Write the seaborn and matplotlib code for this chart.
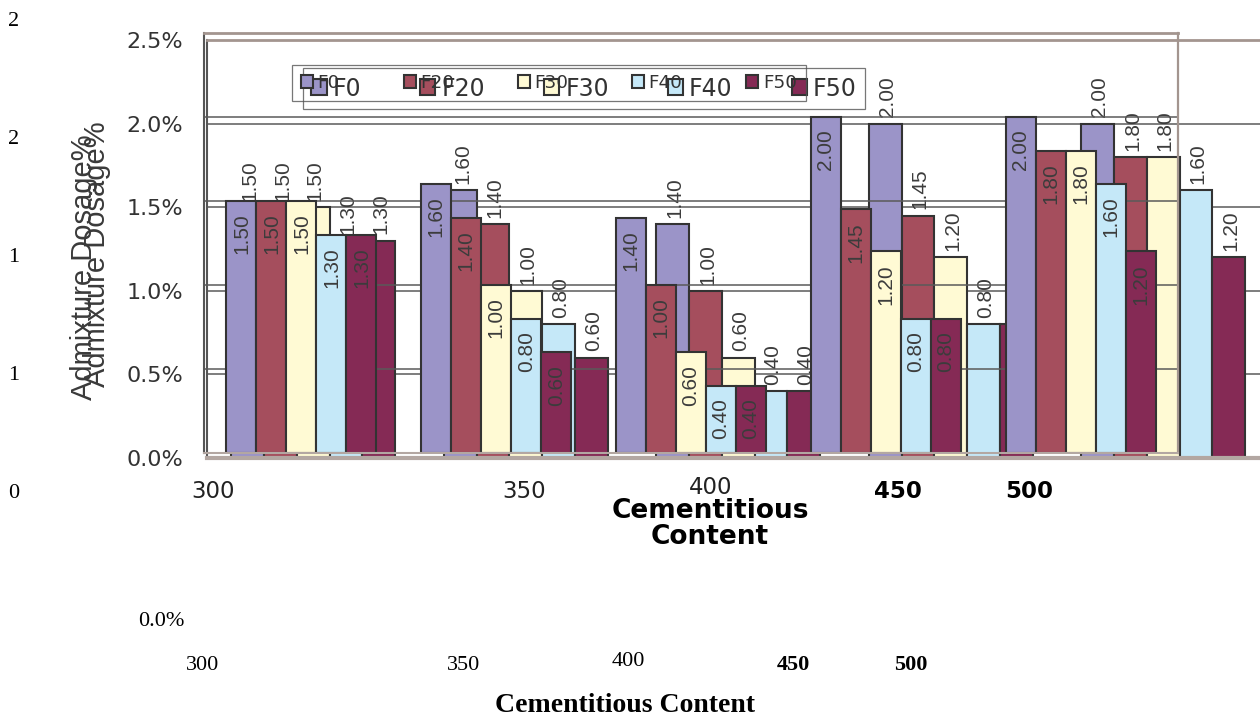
import numpy as np
import pandas as pd
import matplotlib
matplotlib.use("Agg")
import matplotlib.pyplot as plt
from matplotlib.patches import Patch
import seaborn as sns

# Admixture dosage (% of cementitious content) for each fly-ash replacement level
contents = ["300", "350", "400", "450", "500"]
mixes = ["F0", "F20", "F30", "F40", "F50"]
f0 = [1.50, 1.60, 1.40, 2.00, 2.00]
f20 = [1.50, 1.40, 1.00, 1.45, 1.80]
f30 = [1.50, 1.00, 0.60, 1.20, 1.80]
f40 = [1.30, 0.80, 0.40, 0.80, 1.60]
f50 = [1.30, 0.60, 0.40, 0.80, 1.20]
y_ticks = [0.0, 0.5, 1.0, 1.5, 2.0, 2.5]
stray_left = ["2", "2", "1", "1", "0"]
colors = ["#9b94c8", "#a54e5d", "#fffad4", "#c5e8f8", "#852a55"]

records = []
for mix, vals in zip(mixes, [f0, f20, f30, f40, f50]):
    for c, v in zip(contents, vals):
        records.append({"content": c, "mix": mix, "dosage": v})
df = pd.DataFrame(records)

sns.set_style("white")
plt.rcParams["font.family"] = ["DejaVu Sans"]

W, H = 1260, 716
fig = plt.figure(figsize=(12.6, 7.16), dpi=100)
fig.patch.set_facecolor("white")


def fx(px):
    return px / W


def fy(py):
    return 1 - py / H


def box(l, t, r, b):
    return [fx(l), fy(b), (r - l) / W, (b - t) / H]


EDGE = "#333333"
FRAME = "#a3958f"

# back copy of the chart and front copy, slightly offset
ax_b = fig.add_axes(box(207, 40, 207 + 5 * 212.5, 458), zorder=1)
ax_a = fig.add_axes(box(204, 33, 1178, 453), zorder=2)

for ax in (ax_b, ax_a):
    ax.set_facecolor("none")
    sns.barplot(data=df, x="content", y="dosage", hue="mix", order=contents,
                hue_order=mixes, palette=colors, width=0.77, saturation=1,
                edgecolor=EDGE, linewidth=1.5, errorbar=None, legend=False,
                ax=ax)
    ax.set_xlim(-0.5, 4.5)
    ax.set_ylim(0, 2.5)
    ax.set_axisbelow(True)
    ax.yaxis.grid(True, color="#5a5a5a", lw=1.1)
    ax.xaxis.grid(False)
    ax.set_xlabel("")
    ax.set_ylabel("")
    ax.set_xticks([])
    ax.set_xticks(np.arange(-0.5, 5, 1), minor=True)
    ax.set_yticks(y_ticks)
    ax.spines["top"].set_color(FRAME)
    ax.spines["top"].set_linewidth(2)
    ax.spines["left"].set_color("#555555")
    ax.spines["left"].set_linewidth(1.5)
    ax.spines["bottom"].set_color("#b3a7a2")

ax_b.spines["bottom"].set_linewidth(3)
ax_b.spines["right"].set_visible(False)
ax_a.spines["bottom"].set_linewidth(1.5)
ax_a.spines["right"].set_color(FRAME)
ax_a.spines["right"].set_linewidth(1.6)

ax_b.set_yticklabels([f"{t:.1f}%" for t in y_ticks])
ax_b.tick_params(axis="y", length=6, width=1.2, color="#555555", pad=11,
                 labelsize=16, labelcolor="#333333")
ax_a.set_yticklabels([])
ax_a.tick_params(axis="y", length=5, width=1.2, color="#555555")
ax_b.tick_params(axis="x", which="minor", length=7, width=1.2,
                 color="#666666", direction="out")
ax_a.tick_params(axis="x", which="minor", length=4, width=1.2,
                 color="#666666", direction="out")

# value labels: above the bars on the back chart, inside the tops on the front
for cont in ax_b.containers:
    for bar in cont:
        h = bar.get_height()
        ax_b.annotate(f"{h:.2f}", (bar.get_x() + bar.get_width() / 2, h),
                      xytext=(1.5, 4.5), textcoords="offset points",
                      rotation=90, ha="center", va="bottom", fontsize=15,
                      family="Liberation Sans", color="#3c3c3c")
for cont in ax_a.containers:
    for bar in cont:
        h = bar.get_height()
        ax_a.annotate(f"{h:.2f}", (bar.get_x() + bar.get_width() / 2, h),
                      xytext=(0, -9), textcoords="offset points",
                      rotation=90, ha="center", va="top", fontsize=15,
                      family="Liberation Sans", color="#3c3c3c", zorder=6)

# legends
def add_legend(ax, l, t, r, b, size, pad):
    handles = [Patch(facecolor=c, edgecolor=EDGE, linewidth=1.5) for c in colors]
    leg = ax.legend(handles, mixes, ncol=5, mode="expand", loc="center",
                    bbox_to_anchor=box(l, t, r, b), bbox_transform=fig.transFigure,
                    borderaxespad=0, fontsize=size, handlelength=0.65,
                    handleheight=0.65, handletextpad=0.25, borderpad=pad,
                    fancybox=False, labelcolor="#333333")
    fr = leg.get_frame()
    fr.set_facecolor("none")
    fr.set_edgecolor("#555555")
    fr.set_linewidth(0.9)
    return leg

add_legend(ax_b, 303, 67, 865, 110, 17, 0.35)
add_legend(ax_a, 292, 63, 806, 103, 13.2, 0.5)

# axis titles
for cx, cy in [(84, 267), (97, 254)]:
    fig.text(fx(cx), fy(cy), "Admixture Dosage%", rotation=90, ha="center",
             va="center", fontsize=21, family="Liberation Sans", color="#3a3a3a")

tick_spots = [(213, 491), (524, 491), (711, 488), (898, 491), (1029, 491)]
for lab, (cx, cy) in zip(contents, tick_spots):
    heavy = lab in ("450", "500")
    fig.text(fx(cx), fy(cy), lab, ha="center", va="center", fontsize=16.5,
             fontweight="bold" if heavy else "normal",
             color="black" if heavy else "#222222")
fig.text(fx(710), fy(524), "Cementitious\nContent", ha="center", va="center",
         fontsize=19, fontweight="bold", linespacing=1.0, color="black")

# plain caption layer underneath
serif = "Liberation Serif"
for lab, cy in zip(stray_left, [21, 139, 258, 376, 494]):
    fig.text(fx(14), fy(cy), lab, ha="center", va="center", fontsize=16,
             family=serif, color="black")
fig.text(fx(161), fy(622), "0.0%", ha="center", va="center", fontsize=16,
         family=serif, color="black")
low_spots = [(203, 665), (464, 665), (628, 662), (793, 665), (911, 665)]
for lab, (cx, cy) in zip(contents, low_spots):
    heavy = lab in ("450", "500")
    fig.text(fx(cx), fy(cy), lab, ha="center", va="center", fontsize=16,
             family=serif, fontweight="bold" if heavy else "normal",
             color="black")
fig.text(fx(625), fy(705), "Cementitious Content", ha="center", va="center",
         fontsize=20, family=serif, fontweight="bold", color="black")

fig.savefig("out.png", dpi=100, facecolor="white")
